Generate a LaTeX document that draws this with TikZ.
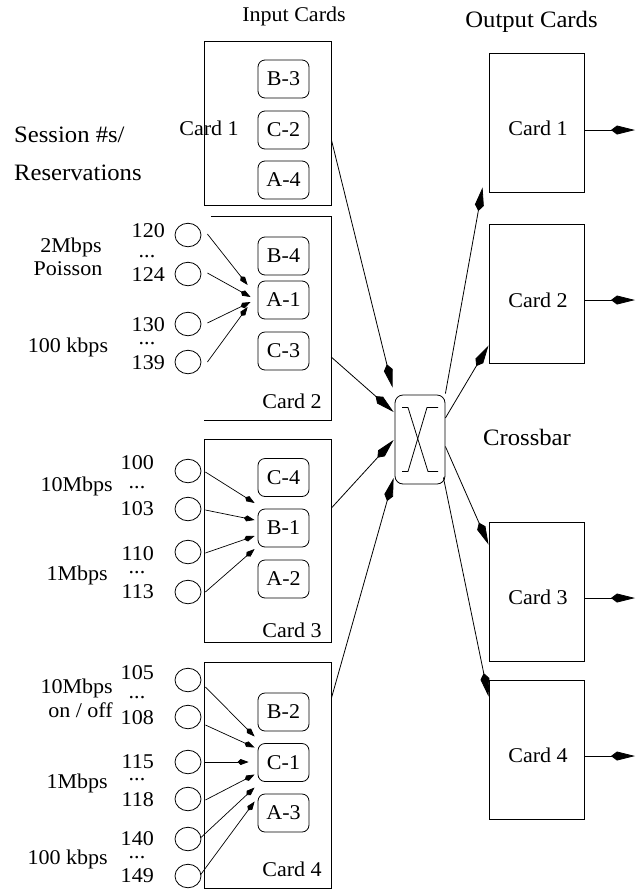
\documentclass[tikz,border=0pt]{standalone}
\usepackage{fontspec}
\setmainfont{Liberation Serif}[FakeStretch=1.05]
\usetikzlibrary{arrows.meta,calc,shapes.geometric}
\begin{document}
\begin{tikzpicture}[x=1pt,y=-1pt,
  lbl/.style={inner sep=0pt, font=\fontsize{21}{21}\selectfont},
  biglbl/.style={inner sep=0pt, font=\fontsize{23.5}{24}\selectfont},
  card/.style={draw, line width=0.9pt, inner sep=0pt, minimum width=127pt},
  ocard/.style={draw, line width=0.9pt, inner sep=0pt, minimum width=95pt, minimum height=139pt},
  sess/.style={draw, rounded corners=7pt, line width=0.8pt, minimum width=51pt, minimum height=38pt, inner sep=0pt, font=\fontsize{21}{21}\selectfont},
  src/.style={draw, ellipse, minimum width=26pt, minimum height=23.5pt, inner sep=0pt, line width=0.8pt},
  smallarr/.style={-{Kite[length=11pt,width=6pt,inset=3pt]}, line width=0.7pt},
  largearr/.style={-{Kite[length=24pt,width=9pt,inset=6pt]}, line width=0.8pt}
]
\useasboundingbox (0,0) rectangle (644,895);

% titles
\node[lbl, anchor=base] (tin) at (294,21) {Input Cards};
\node[biglbl, anchor=base] (tout) at (531.5,27) {Output Cards};
\node[biglbl, anchor=base west] (tses) at (14,142) {Session \#s/};
\node[biglbl, anchor=base west] (tres) at (14,180) {Reservations};
\node[biglbl, anchor=base] (txb) at (527,445) {Crossbar};

% input cards
\node[card, minimum height=164pt] (in1) at (267.5,123) {};
\node[inner sep=0pt, minimum width=127pt, minimum height=203pt] (in2) at (267.5,318.5) {};
\draw[line width=0.9pt] ($(in2.north west)+(7,0)$) -- (in2.north east) -- (in2.south east) -- (in2.south west);
\node[card, minimum height=203pt] (in3) at (267.5,540.5) {};
\node[card, minimum height=226pt] (in4) at (267.5,775) {};

\node[lbl, anchor=base] (l1) at (209,135) {Card 1};
\node[lbl, anchor=base] (l2) at (292,408) {Card 2};
\node[lbl, anchor=base] (l3) at (292,637) {Card 3};
\node[lbl, anchor=base] (l4) at (292,876) {Card 4};

% session boxes
\node[sess] (b3) at (283.5,79) {B-3};
\node[sess] (c2) at (283.5,130) {C-2};
\node[sess] (a4) at (283.5,180) {A-4};
\node[sess] (b4) at (283.5,256) {B-4};
\node[sess] (a1) at (283.5,300) {A-1};
\node[sess] (c3) at (283.5,351) {C-3};
\node[sess] (c4) at (283.5,477.5) {C-4};
\node[sess] (b1) at (283.5,528) {B-1};
\node[sess] (a2) at (283.5,579) {A-2};
\node[sess] (b2) at (283.5,712) {B-2};
\node[sess] (c1) at (283.5,762.5) {C-1};
\node[sess] (a3) at (283.5,813) {A-3};

% sources card 2
\node[src] (s120) at (188,235) {};
\node[src] (s124) at (188,274) {};
\node[src] (s130) at (188,324) {};
\node[src] (s139) at (188,362) {};
\node[lbl, anchor=east] (n120) at (165,231) {120};
\node[lbl] (d1) at (147,257) {...};
\node[lbl, anchor=east] (n124) at (165,275) {124};
\node[lbl, anchor=east] (n130) at (165,325) {130};
\node[lbl] (d2) at (147,344) {...};
\node[lbl, anchor=east] (n139) at (165,363) {139};
\node[lbl, anchor=base] (r1) at (71,252) {2Mbps};
\node[lbl, anchor=base] (r2) at (68,275) {Poisson};
\node[lbl, anchor=base] (r3) at (68,352) {100 kbps};

% sources card 3
\node[src] (s100) at (188,471) {};
\node[src] (s103) at (188,509) {};
\node[src] (s110) at (188,552) {};
\node[src] (s113) at (188,592) {};
\node[lbl, anchor=east] (n100) at (154,463) {100};
\node[lbl] (d3) at (137,488) {...};
\node[lbl, anchor=east] (n103) at (154,509) {103};
\node[lbl, anchor=east] (n110) at (154,554) {110};
\node[lbl] (d4) at (137,573) {...};
\node[lbl, anchor=east] (n113) at (154,592) {113};
\node[lbl, anchor=base east] (r4) at (113,491) {10Mbps};
\node[lbl, anchor=base east] (r5) at (108,580) {1Mbps};

% sources card 4
\node[src] (s105) at (188,680) {};
\node[src] (s108) at (188,717) {};
\node[src] (s115) at (188,762) {};
\node[src] (s118) at (188,799) {};
\node[src] (s140) at (188,839) {};
\node[src] (s149) at (188,876) {};
\node[lbl, anchor=east] (n105) at (154,673) {105};
\node[lbl] (d5) at (137,698) {...};
\node[lbl, anchor=east] (n108) at (154,718) {108};
\node[lbl, anchor=east] (n115) at (154,762) {115};
\node[lbl] (d6) at (137,780) {...};
\node[lbl, anchor=east] (n118) at (154,800) {118};
\node[lbl, anchor=east] (n140) at (154,839) {140};
\node[lbl] (d7) at (137,858) {...};
\node[lbl, anchor=east] (n149) at (154,876) {149};
\node[lbl, anchor=base east] (r6) at (113,693) {10Mbps};
\node[lbl, anchor=base east] (r7) at (113,717) {on / off};
\node[lbl, anchor=base east] (r8) at (108,788) {1Mbps};
\node[lbl, anchor=base east] (r9) at (108,864) {100 kbps};

% source arrows
\draw[smallarr] ($(s120.east)+(6,-1)$) -- ($(a1.west)+(-10,-15)$);
\draw[smallarr] ($(s124.east)+(6,-1)$) -- ($(a1.west)+(-7,-3)$);
\draw[smallarr] ($(s130.east)+(6,-1)$) -- ($(a1.west)+(-7,2)$);
\draw[smallarr] ($(s139.east)+(6,0)$) -- ($(a1.west)+(-10,7)$);

\draw[smallarr] ($(s100.east)+(4,1)$) -- ($(b1.west)+(-3,-25)$);
\draw[smallarr] ($(s103.east)+(4,1)$) -- ($(b1.west)+(-3,-8)$);
\draw[smallarr] ($(s110.east)+(4,1)$) -- ($(b1.west)+(-3,8)$);
\draw[smallarr] ($(s113.east)+(4,0)$) -- ($(b1.west)+(-3,21)$);

\draw[smallarr] ($(s105.east)+(4,7)$) -- ($(c1.west)+(-3,-26)$);
\draw[smallarr] ($(s108.east)+(4,8)$) -- ($(c1.west)+(-3,-15)$);
\draw[smallarr] ($(s115.east)+(4,0)$) -- ($(c1.west)+(-9,-0.5)$);
\draw[smallarr] ($(s118.east)+(4,1)$) -- ($(c1.west)+(-3,12)$);
\draw[smallarr] ($(s140.east)+(-1,-1)$) -- ($(c1.west)+(-3,25)$);
\draw[smallarr] ($(s149.east)+(-1,-1)$) -- ($(c1.west)+(-3,39)$);

% crossbar
\node[draw, rounded corners=8pt, line width=0.8pt, minimum width=50pt, minimum height=89pt, inner sep=0pt] (xbar) at (420,439.5) {};
\draw[line width=0.8pt] ($(xbar.center)+(-18,-32)$) -- ++(6,0) -- ($(xbar.center)+(8,32)$) -- ++(10,0);
\draw[line width=0.8pt] ($(xbar.center)+(18,-32)$) -- ++(-11,0) -- ($(xbar.center)+(-12,32)$) -- ++(-6,0);

% output cards
\node[ocard] (out1) at (536.5,122.5) {};
\node[ocard] (out2) at (536.5,293.5) {};
\node[ocard] (out3) at (536.5,591.5) {};
\node[ocard] (out4) at (536.5,749.5) {};
\node[lbl, anchor=base] (ol1) at (538,135) {Card 1};
\node[lbl, anchor=base] (ol2) at (538,307) {Card 2};
\node[lbl, anchor=base] (ol3) at (538,604) {Card 3};
\node[lbl, anchor=base] (ol4) at (538,762) {Card 4};

% input cards to crossbar
\draw[largearr] ($(in1.east)+(0,17)$) -- ($(xbar.north west)+(-2,-7)$);
\draw[largearr] ($(in2.east)+(0,38.5)$) -- ($(xbar.west)+(-1,-27.5)$);
\draw[largearr] ($(in3.east)+(0,-32.5)$) -- ($(xbar.west)+(-1,0.5)$);
\draw[largearr] ($(in4.east)+(0,-77)$) -- ($(xbar.west)+(-1,38.5)$);

% crossbar to output cards
\draw[largearr] ($(xbar.north east)+(0,-1)$) -- ($(out1.south west)+(-6,-5)$);
\draw[largearr] ($(xbar.east)+(0,-21.5)$) -- ($(out2.south west)+(0,-18)$);
\draw[largearr] ($(xbar.east)+(0,7)$) -- ($(out3.north west)+(0,23)$);
\draw[largearr] ($(xbar.east)+(-2,38)$) -- ($(out4.north west)+(0,17)$);

% output links
\coordinate (e1) at (635,130);
\coordinate (e2) at (635,300);
\coordinate (e3) at (635,598);
\coordinate (e4) at (635,756);
\draw[largearr] ($(out1.east)+(0,7.5)$) -- (e1);
\draw[largearr] ($(out2.east)+(0,6.5)$) -- (e2);
\draw[largearr] ($(out3.east)+(0,6.5)$) -- (e3);
\draw[largearr] ($(out4.east)+(0,6.5)$) -- (e4);
\end{tikzpicture}
\end{document}
